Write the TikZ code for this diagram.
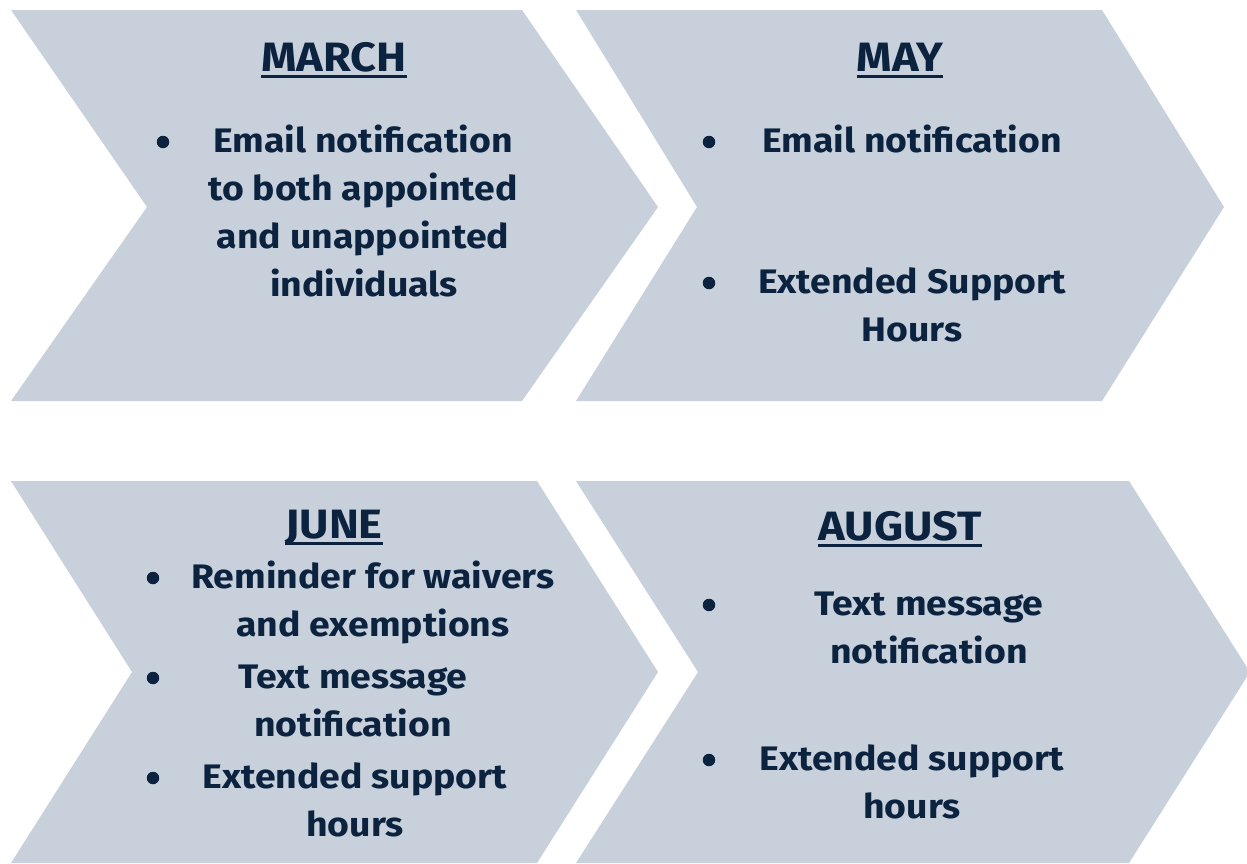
\documentclass[tikz,border=0pt]{standalone}
\usepackage{fontspec}
\setmainfont{Fira Sans}[FakeStretch=1.1]
\definecolor{chevfill}{HTML}{C8D1DB}
\definecolor{ink}{HTML}{0C2340}
\begin{document}
\begin{tikzpicture}[x=1pt,y=-1pt,
  chev/.style={fill=chevfill},
  head/.style={font=\fontsize{41}{47}\selectfont\bfseries, text=ink, inner sep=0pt, anchor=base},
  item/.style={font=\fontsize{34}{48}\selectfont\bfseries, text=ink, inner sep=0pt, anchor=base},
  dot/.style={circle, fill=ink, minimum size=12.5pt, inner sep=0pt},
  uline/.style={draw=ink, line width=3pt}]
\useasboundingbox (0,0) rectangle (1247,863);
\clip (0,0) rectangle (1247,863);
% chevrons
\fill[chev] (11,10) -- (522,10) -- (658,207) -- (522,401) -- (11,401) -- (147,207) -- cycle;
\fill[chev] (576,10) -- (1102,10) -- (1224,207) -- (1102,401) -- (576,401) -- (697,207) -- cycle;
\fill[chev] (11,481) -- (537,481) -- (658,672) -- (537,863) -- (11,863) -- (132,672) -- cycle;
\fill[chev] (576,481) -- (1129,481) -- (1250,672) -- (1129,863) -- (576,863) -- (698,672) -- cycle;
% MARCH
\node[head] (hm) at (334,71) {MARCH};
\draw[uline] ([yshift=-5pt]hm.base west) -- ([yshift=-5pt]hm.base east);
\node[dot] (m1) at (163,142) {};
\node[item] (m1a) at (363,152) {Email notification};
\node[item] (m1b) at (363,200) {to both appointed};
\node[item] (m1c) at (363,248) {and unappointed};
\node[item] (m1d) at (364,296) {individuals};
% MAY
\node[head] (hy) at (900,71) {MAY};
\draw[uline] ([yshift=-5pt]hy.base west) -- ([yshift=-5pt]hy.base east);
\node[dot] (y1) at (709,142) {};
\node[item] (y1a) at (912,152) {Email notification};
\node[dot] (y2) at (709,283) {};
\node[item] (y2a) at (912,293) {Extended Support};
\node[item] (y2b) at (912,341) {Hours};
% JUNE
\node[head] (hj) at (334,538) {JUNE};
\draw[uline] ([yshift=-5pt]hj.base west) -- ([yshift=-5pt]hj.base east);
\node[dot] (j1) at (153,578) {};
\node[item] (j1a) at (373,588) {Reminder for waivers};
\node[item] (j1b) at (373,636) {and exemptions};
\node[dot] (j2) at (153,678) {};
\node[item] (j2a) at (353,688) {Text message};
\node[item] (j2b) at (353,736) {notification};
\node[dot] (j3) at (153,778) {};
\node[item] (j3a) at (355,788) {Extended support};
\node[item] (j3b) at (355,836) {hours};
% AUGUST
\node[head] (ha) at (900,540) {AUGUST};
\draw[uline] ([yshift=-5pt]ha.base west) -- ([yshift=-5pt]ha.base east);
\node[dot] (a1) at (709,605) {};
\node[item] (a1a) at (929,615) {Text message};
\node[item] (a1b) at (929,663) {notification};
\node[dot] (a2) at (709,760) {};
\node[item] (a2a) at (912,770) {Extended support};
\node[item] (a2b) at (912,818) {hours};
\end{tikzpicture}
\end{document}
